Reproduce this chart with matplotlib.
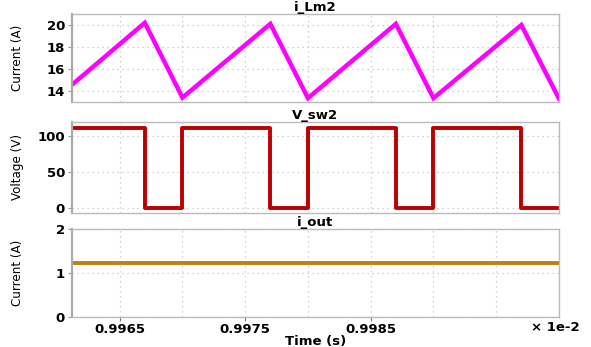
import numpy as np
import matplotlib
matplotlib.use('Agg')
import matplotlib.pyplot as plt
from matplotlib.ticker import MultipleLocator

# time axis (displayed units, x 1e-2)
t_pts = [0.99612, 0.9967, 0.997, 0.9977, 0.998, 0.9987, 0.999, 0.9997, 1.0]
i_lm2 = [14.57, 20.2, 13.4, 20.1, 13.35, 20.1, 13.35, 20.0, 13.3]
v_sw2 = [112, 0, 112, 0, 112, 0, 112, 0, 0]
t_out = [0.99612, 1.0]
i_out = [1.23, 1.23]

titles = ['i_Lm2', 'V_sw2', 'i_out']
ylabels = ['Current (A)', 'Voltage (V)', 'Current (A)']
xticks = [0.9965, 0.9975, 0.9985]
xtick_labels = ['0.9965', '0.9975', '0.9985']

fig = plt.figure(figsize=(5.91, 3.47), dpi=100)
W, H = 591, 347
left, right = 72, 559
boxes = [(14, 102), (122, 213), (229, 317)]
axes = []
for top, bot in boxes:
    ax = fig.add_axes([left / W, 1 - bot / H, (right - left) / W, (bot - top) / H])
    axes.append(ax)

lab_font = dict(family='DejaVu Sans', stretch='condensed', size=9.5)
tick_font = dict(family='DejaVu Sans', weight='bold', size=9.5)
title_font = dict(family='DejaVu Sans', weight='bold', size=9.5)

axes[0].plot(t_pts, i_lm2, color='#ff00ff', lw=3.2, solid_joinstyle='miter')
axes[0].set_ylim(13, 21)
axes[0].set_yticks([14, 16, 18, 20])

axes[1].plot(t_pts, v_sw2, color='#bb0000', lw=2.8, drawstyle='steps-post')
axes[1].set_ylim(-7, 120)
axes[1].set_yticks([0, 50, 100])

axes[2].plot(t_out, i_out, color='#c08010', lw=2.8)
axes[2].set_ylim(0, 2)
axes[2].set_yticks([0, 1, 2])

for k, ax in enumerate(axes):
    ax.set_xlim(0.99612, 1.0)
    ax.xaxis.set_major_locator(MultipleLocator(0.0005))
    ax.grid(True, color='#c4c4c4', linestyle=(0, (1, 3)), linewidth=0.9)
    ax.set_title(titles[k], fontdict=title_font, pad=1)
    ax.set_ylabel(ylabels[k], fontdict=lab_font)
    ax.yaxis.set_label_coords(-0.098, 0.5)
    for s in ax.spines.values():
        s.set_color('#bbbbbb')
        s.set_linewidth(1.0)
    ax.spines['left'].set_color('#aaaaaa')
    ax.spines['left'].set_linewidth(1.6)
    ax.tick_params(axis='y', length=3, color='#999999', pad=2)
    ax.tick_params(axis='x', length=0)
    for lb in ax.get_yticklabels():
        lb.set_fontfamily('DejaVu Sans')
        lb.set_fontweight('bold')
        lb.set_fontsize(9.5)
    if k < 2:
        ax.set_xticklabels([])

ax = axes[2]
sec = ax.secondary_xaxis('bottom')
sec.set_xticks(xticks)
sec.set_xticklabels(xtick_labels, fontdict=tick_font)
sec.tick_params(length=3, color='#777777', pad=1)
sec.spines['bottom'].set_visible(False)
ax.set_xticklabels([])
ax.text(1.043, -0.05, '\u00d7 1e-2', transform=ax.transAxes, ha='right', va='top',
        fontdict=tick_font)
ax.set_xlabel('Time (s)', fontdict=title_font)
ax.xaxis.set_label_coords(0.5, -0.2)

fig.savefig('out.png', dpi=100)
